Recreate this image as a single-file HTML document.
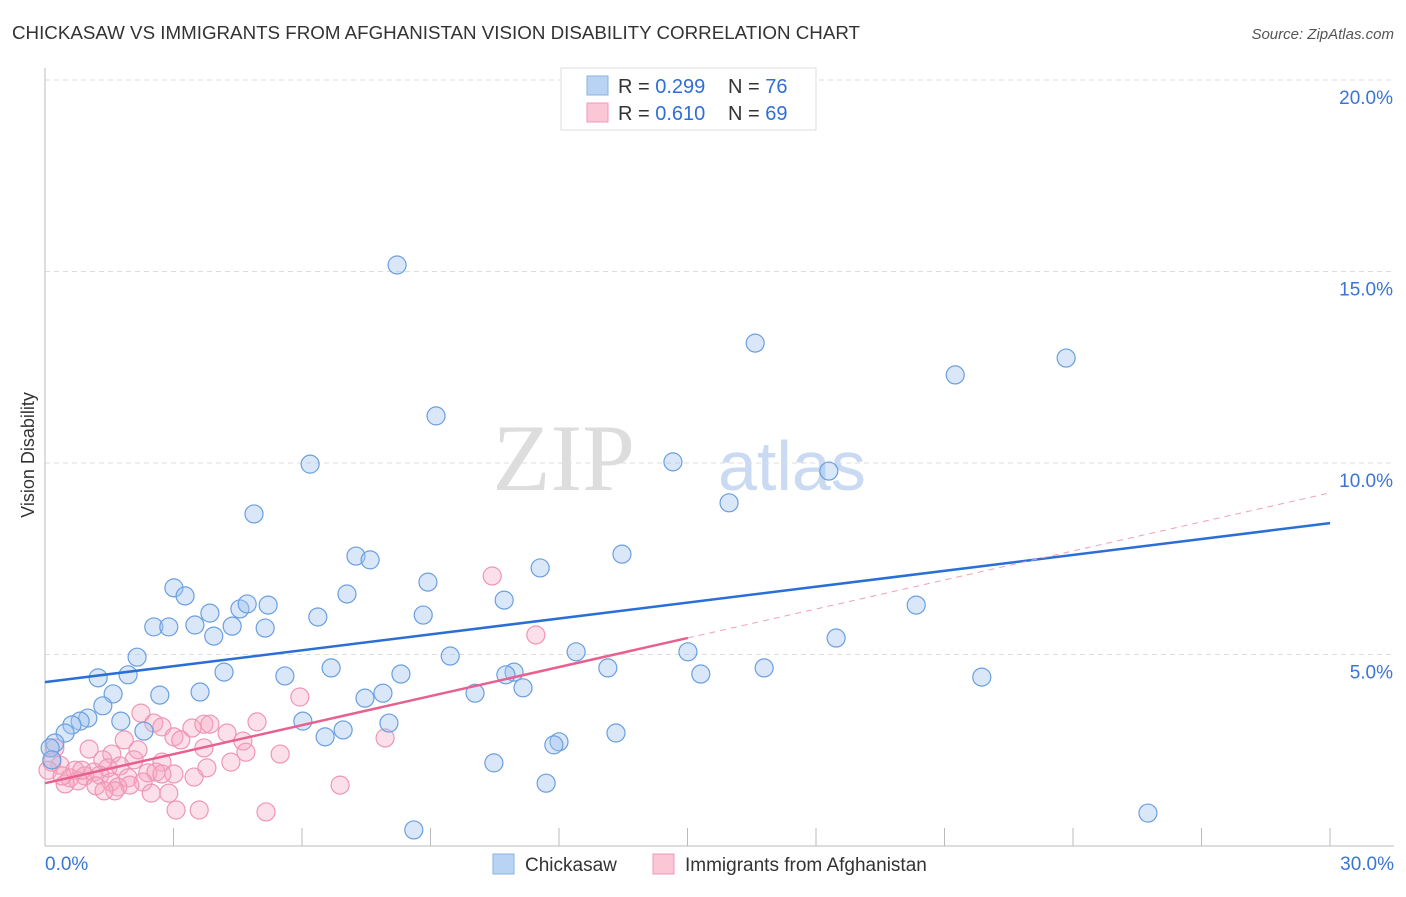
<!DOCTYPE html>
<html><head><meta charset="utf-8"><style>
body{margin:0;background:#fff;font-family:"Liberation Sans",sans-serif;}
</style></head><body>
<svg width="1406" height="892" xmlns="http://www.w3.org/2000/svg">
<text x="12" y="39" font-size="18" fill="#333" textLength="848" lengthAdjust="spacingAndGlyphs">CHICKASAW VS IMMIGRANTS FROM AFGHANISTAN VISION DISABILITY CORRELATION CHART</text>
<text x="1394" y="39" font-size="15" fill="#555" font-style="italic" text-anchor="end">Source: ZipAtlas.com</text>
<text x="635" y="490" font-size="95" fill="#ddd" font-family="Liberation Serif,serif" text-anchor="end">ZIP</text>
<text x="718" y="490" font-size="70" fill="#c9daf2">atlas</text>
<text x="34" y="455" font-size="18" fill="#333" transform="rotate(-90 34 455)" text-anchor="middle">Vision Disability</text>
<g id="grid"></g>
<g id="axes"></g>
<g id="pts"></g>
<g id="trends"></g>
<g>
<rect x="561" y="68" width="255" height="62" fill="#fff" stroke="#ddd"/>
<rect x="587" y="76" width="21" height="19" fill="#b9d3f5" stroke="#8ab2e8"/>
<rect x="587" y="103" width="21" height="19" fill="#fbc6d6" stroke="#f19ab7"/>
<text x="618" y="93" font-size="20" fill="#333">R = <tspan fill="#2f6fd4">0.299</tspan><tspan x="728">N = </tspan><tspan fill="#2f6fd4">76</tspan></text>
<text x="618" y="120" font-size="20" fill="#333">R = <tspan fill="#2f6fd4"> 0.610</tspan><tspan x="728">N = </tspan><tspan fill="#2f6fd4">69</tspan></text>
</g>
<g>
<rect x="493" y="854" width="21" height="20" fill="#b9d3f5" stroke="#8ab2e8"/>
<text x="525" y="871" font-size="19" fill="#333">Chickasaw</text>
<rect x="653" y="854" width="21" height="20" fill="#fbc6d6" stroke="#f19ab7"/>
<text x="685" y="871" font-size="19" fill="#333">Immigrants from Afghanistan</text>
</g>
</svg>
<script>
const blueX=[8.22,16.58,21.25,23.84,9.13,6.19,14.66,18.30,15.97,4.88,7.26,7.59,13.47,11.56,8.94,3.01,3.27,7.05,10.72,3.85,4.55,4.72,5.21,6.37,8.83,20.34,2.54,2.89,3.50,4.37,3.94,5.14,18.47,2.15,9.46,12.40,15.01,4.18,5.60,6.68,8.31,10.95,10.76,13.14,15.31,16.79,1.24,1.94,21.87,1.59,2.68,3.62,7.89,7.47,10.04,11.16,1.35,1.00,0.82,0.63,1.77,0.47,2.31,6.02,8.03,6.96,6.54,13.33,12.00,11.88,0.23,0.12,10.48,11.70,8.61,25.75,0.16];
const blueY=[15.17,13.13,12.30,12.74,11.23,9.97,10.03,9.79,8.96,8.67,7.57,7.47,7.62,7.26,6.89,6.74,6.53,6.58,6.42,6.08,6.19,6.32,6.29,5.98,6.03,6.29,5.72,5.72,5.77,5.74,5.48,5.69,5.43,4.93,4.96,5.07,5.07,4.54,4.44,4.65,4.49,4.54,4.47,4.65,4.49,4.65,4.39,4.47,4.41,3.97,3.94,4.02,3.99,3.86,3.99,4.13,3.66,3.34,3.26,3.16,3.26,2.95,3.00,3.26,3.21,3.03,2.85,2.95,2.72,2.64,2.69,2.56,2.17,1.64,0.42,0.86,2.25];
const pinkX=[10.44,11.46,5.95,2.24,2.54,2.73,3.43,3.71,3.85,4.25,4.95,7.94,3.01,3.17,4.62,3.71,1.03,1.85,1.56,2.17,4.69,5.49,1.35,2.08,2.73,4.34,3.78,1.47,1.75,0.35,0.70,1.14,2.40,2.59,3.01,0.93,1.28,0.58,1.94,3.48,2.73,0.77,0.47,1.54,2.29,1.98,1.19,1.70,1.63,1.38,2.48,2.89,6.89,3.06,3.60,5.16,0.16,0.07,0.23,0.40,0.86];
const pinkY=[7.05,5.51,3.89,3.47,3.21,3.11,3.08,3.18,3.18,2.95,3.24,2.82,2.85,2.77,2.74,2.56,2.53,2.77,2.40,2.51,2.45,2.40,2.25,2.25,2.19,2.19,2.04,2.04,2.09,2.11,1.98,1.93,1.91,1.93,1.88,1.83,1.85,1.78,1.78,1.80,1.88,1.70,1.62,1.67,1.67,1.59,1.57,1.54,1.44,1.44,1.38,1.38,1.59,0.94,0.94,0.89,2.19,1.98,2.56,1.83,1.98];
const blueTrend=[4.28,8.43];
const pinkTrend=[1.64,9.22];
const pinkSolidEnd=15.01;
const yTicks=[5,10,15,20];
const yTickLabels=["5.0%","10.0%","15.0%","20.0%"];
const xTicks=[0,3,6,9,12,15,18,21,24,27,30];

const NS="http://www.w3.org/2000/svg";
const X=v=>45+v/30*1285;
const Y=v=>846-v/5*191.5;
function mk(tag,a,parent){const e=document.createElementNS(NS,tag);for(const k in a)e.setAttribute(k,a[k]);document.getElementById(parent).appendChild(e);return e;}
yTicks.forEach((t,i)=>{
  const g=mk('line',{x1:45,x2:1394,y1:Y(t),y2:Y(t),stroke:'#ddd','stroke-dasharray':'5,4'},'grid');
  
  
  const l=mk('text',{x:1393,y:Y(t)+24,'font-size':19,fill:'#3a75d6','text-anchor':'end'},'grid');
  l.textContent=yTickLabels[i];
  
  
});
const ax=mk('line',{x1:45,x2:45,y1:68,y2:846,stroke:'#bbb'},'axes');


const bx=mk('line',{x1:45,x2:1394,y1:846,y2:846,stroke:'#bbb'},'axes');


xTicks.forEach(t=>{
  const tk=mk('line',{x1:X(t),x2:X(t),y1:828,y2:846,stroke:'#bbb'},'axes');
  
  
});
const xl0=mk('text',{x:45,y:870,'font-size':19,fill:'#3a75d6'},'axes');xl0.textContent='0.0%';


const xl1=mk('text',{x:1394,y:870,'font-size':19,fill:'#3a75d6','text-anchor':'end'},'axes');xl1.textContent='30.0%';


pinkX.forEach((v,i)=>{
  const c=mk('circle',{cx:X(v),cy:Y(pinkY[i]),r:9,fill:'rgba(245,165,192,0.35)',stroke:'#ef95b5','stroke-width':1.2},'pts');
  
  
});
blueX.forEach((v,i)=>{
  const c=mk('circle',{cx:X(v),cy:Y(blueY[i]),r:9,fill:'rgba(160,196,240,0.4)',stroke:'#6a9fe0','stroke-width':1.2},'pts');
  
  
});
const bt=mk('line',{x1:X(0),y1:Y(blueTrend[0]),x2:X(30),y2:Y(blueTrend[1]),stroke:'#2a6fd6','stroke-width':2.5},'trends');


const pAt=x=>pinkTrend[0]+(pinkTrend[1]-pinkTrend[0])*x/30;
const pt=mk('line',{x1:X(0),y1:Y(pinkTrend[0]),x2:X(pinkSolidEnd),y2:Y(pAt(pinkSolidEnd)),stroke:'#e8608f','stroke-width':2.5},'trends');


const pd=mk('line',{x1:X(pinkSolidEnd),y1:Y(pAt(pinkSolidEnd)),x2:X(30),y2:Y(pinkTrend[1]),stroke:'#eea0bb','stroke-width':1,'stroke-dasharray':'6,5'},'trends');


</script>
</body></html>
